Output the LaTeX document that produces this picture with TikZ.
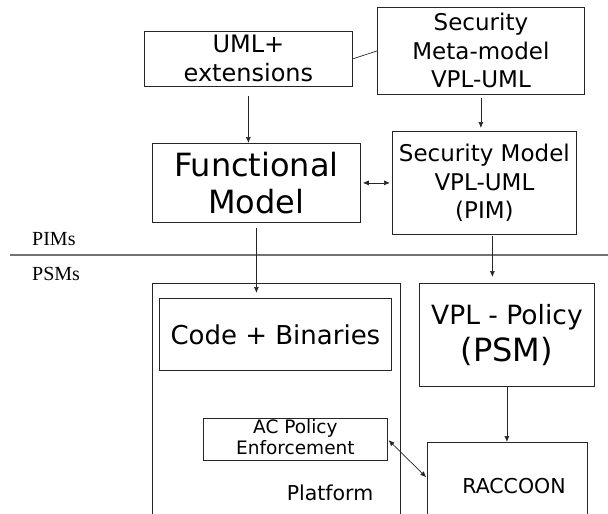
\documentclass[tikz,border=0pt]{standalone}
\usepackage{fontspec}
\setmainfont{DejaVu Sans}
\newfontfamily\serifface{Liberation Serif}
\usetikzlibrary{arrows.meta,calc}
\begin{document}
\begin{tikzpicture}[x=1pt,y=-1pt,
  box/.style={draw=black!85, line width=0.8pt, inner sep=0pt, anchor=north west, align=center},
  conn/.style={draw=black!85, line width=0.7pt},
  arr/.style={conn, -{Latex[length=6pt,width=5pt]}},
  darr/.style={conn, {Latex[length=6pt,width=5pt]}-{Latex[length=6pt,width=5pt]}},
  levelname/.style={font=\serifface\fontsize{20}{24}\selectfont, anchor=base west, inner sep=0pt},
  sep/.style={draw=black!55, line width=1.3pt}
]
% page frame
\clip (0,0) rectangle (608,514);
\fill[white] (0,0) rectangle (608,514);

% platform-independent models
\node[box, minimum width=208pt, minimum height=55pt, font=\fontsize{24}{29}\selectfont]
  (uml) at (144,31) {UML+\\extensions};
\node[box, minimum width=207pt, minimum height=87pt, font=\fontsize{23}{28.5}\selectfont]
  (meta) at (377,7) {Security\\Meta-model\\VPL-UML};
\node[box, minimum width=208pt, minimum height=79pt, font=\fontsize{32}{37}\selectfont]
  (func) at (152,143) {Functional\\Model};
\node[box, minimum width=184pt, minimum height=103pt, font=\fontsize{23}{28.5}\selectfont]
  (secm) at (392,131) {Security Model\\VPL-UML\\(PIM)};

% level separator
\coordinate (sepL) at (10,255);
\coordinate (sepR) at (608,255);
\draw[sep] (sepL) -- (sepR);
\node[levelname] (pims) at (32,245) {PIMs};
\node[levelname] (psms) at (32,280) {PSMs};

% platform-specific models
\node[box, minimum width=248pt, minimum height=247pt] (platform) at (152,283) {};
\node[box, minimum width=232pt, minimum height=72pt, font=\fontsize{26}{32}\selectfont]
  (code) at (159,298) {\raisebox{-2pt}{Code + Binaries}};
\node[box, minimum width=175pt, minimum height=103pt, font=\fontsize{26.5}{37}\selectfont]
  (vpl) at (419,283) {VPL - Policy\\{\fontsize{32}{37}\selectfont (PSM)}};
\node[box, minimum width=184pt, minimum height=40pt, font=\fontsize{18.5}{21}\selectfont]
  (ac) at (203,418) {\raisebox{-3pt}{\begin{tabular}{@{}c@{}}AC Policy\\Enforcement\end{tabular}}};
\node[box, minimum width=160pt, minimum height=88pt] (rac) at (427,442) {};
\node[font=\fontsize{20.5}{24}\selectfont, anchor=base, inner sep=0pt] (ractext) at (514,493) {RACCOON};
\node[font=\fontsize{20.5}{24}\selectfont, anchor=base, inner sep=0pt] (plattext) at (330,500) {Platform};

% connectors
\draw[conn] (uml.east) -- (meta.west);
\draw[arr, shorten <=9pt] (uml.south) -- (uml.south |- func.north);
\draw[arr, shorten <=3pt, shorten >=3pt] (meta.south) -- (meta.south |- secm.north);
\draw[darr, shorten <=2pt, shorten >=2pt] (func.east) -- (secm.west);
\draw[arr, shorten <=5pt, shorten >=5pt] (func.south) -- (func.south |- code.north);
\draw[arr, shorten <=1pt, shorten >=6pt] ([xshift=8pt]secm.south) -- ([xshift=8pt]secm.south |- vpl.north);
\draw[arr] (vpl.south) -- (vpl.south |- rac.north);
\draw[darr, shorten <=1pt, shorten >=1pt] (ac.east) -- ([yshift=-36pt]rac.north west);
\end{tikzpicture}
\end{document}
